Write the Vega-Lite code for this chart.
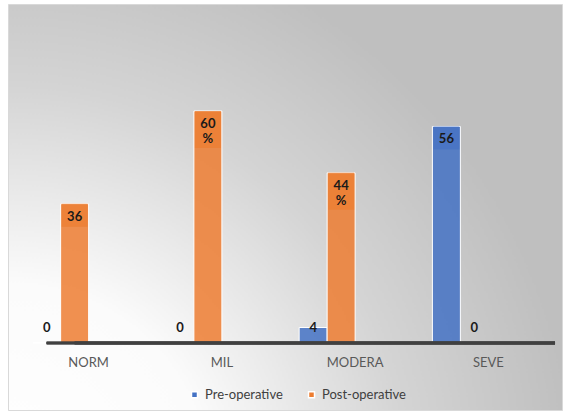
{
  "$schema": "https://vega.github.io/schema/vega-lite/v6.json",
  "autosize": "none",
  "width": 554,
  "height": 406,
  "padding": {"left": 8, "top": 4, "right": 3, "bottom": 4},
  "background": "#ffffff",
  "config": {
    "font": "Lato",
    "view": {
      "stroke": "#d9d9d9",
      "fill": {
        "gradient": "radial",
        "x1": 0, "y1": 1, "r1": 0,
        "x2": 0, "y2": 1, "r2": 1.2,
        "stops": [
          {"offset": 0, "color": "#ffffff"},
          {"offset": 0.3, "color": "#fbfbfb"},
          {"offset": 0.6, "color": "#d4d4d4"},
          {"offset": 0.85, "color": "#bfbfbf"},
          {"offset": 1, "color": "#bfbfbf"}
        ]
      }
    }
  },
  "data": {
    "values": [
      {"cat": "NORM", "series": "Pre-operative", "value": 0, "label": "0"},
      {"cat": "NORM", "series": "Post-operative", "value": 36, "label": "36"},
      {"cat": "MIL", "series": "Pre-operative", "value": 0, "label": "0"},
      {"cat": "MIL", "series": "Post-operative", "value": 60, "label": "60\n%"},
      {"cat": "MODERA", "series": "Pre-operative", "value": 4, "label": "4"},
      {"cat": "MODERA", "series": "Post-operative", "value": 44, "label": "44\n%"},
      {"cat": "SEVE", "series": "Pre-operative", "value": 56, "label": "56"},
      {"cat": "SEVE", "series": "Post-operative", "value": 0, "label": "0"}
    ]
  },
  "encoding": {
    "x": {
      "field": "cat",
      "type": "nominal",
      "sort": ["NORM", "MIL", "MODERA", "SEVE"],
      "scale": {"paddingInner": 0, "paddingOuter": 0.0788, "align": 0.667},
      "axis": {
        "title": null,
        "domain": false,
        "ticks": false,
        "labelAngle": 0,
        "labelFontSize": 13,
        "labelColor": "#595959",
        "labelPadding": 2,
        "offset": -56
      }
    },
    "xOffset": {
      "field": "series",
      "type": "nominal",
      "scale": {
        "domain": ["Pre-operative", "Post-operative", "s3", "s4"],
        "paddingInner": 0,
        "paddingOuter": 0.38
      }
    }
  },
  "layer": [
    {
      "mark": {"type": "bar", "fillOpacity": 0.85, "stroke": "#ffffff", "strokeWidth": 1},
      "encoding": {
        "y": {
          "field": "value",
          "type": "quantitative",
          "scale": {"domain": [-17.33, 87.67], "nice": false, "zero": false},
          "axis": null
        },
        "y2": {"datum": 0},
        "color": {
          "field": "series",
          "type": "nominal",
          "scale": {"domain": ["Pre-operative", "Post-operative"], "range": ["#4472C4", "#ED7D31"]},
          "legend": {
            "title": null,
            "orient": "none",
            "direction": "horizontal",
            "legendX": 180,
            "legendY": 384,
            "symbolType": "square",
            "symbolSize": 36,
            "symbolOpacity": 1,
            "labelFontSize": 13,
            "labelColor": "#404040",
            "columnPadding": 22
          }
        }
      }
    },
    {
      "transform": [{"filter": "datum.value >= 10 && indexof(datum.label, '%') < 0"}],
      "mark": {"type": "tick", "thickness": 23, "size": 26, "yOffset": 11.5},
      "encoding": {
        "y": {"field": "value", "type": "quantitative"},
        "color": {"field": "series", "type": "nominal"}
      }
    },
    {
      "transform": [{"filter": "indexof(datum.label, '%') >= 0"}],
      "mark": {"type": "tick", "thickness": 37, "size": 26, "yOffset": 18.5},
      "encoding": {
        "y": {"field": "value", "type": "quantitative"},
        "color": {"field": "series", "type": "nominal"}
      }
    },
    {
      "mark": {"type": "rule", "color": "#404040", "strokeWidth": 2.5},
      "encoding": {
        "y": {"datum": 0},
        "x": {"datum": "NORM", "bandPosition": 0},
        "x2": {"datum": "SEVE", "bandPosition": 1}
      }
    },
    {
      "transform": [{"filter": "datum.value >= 10"}],
      "mark": {"type": "text", "baseline": "top", "dy": 7, "fontSize": 13, "fontWeight": "bold", "color": "#1a1a1a", "lineBreak": "\n", "lineHeight": 15},
      "encoding": {
        "y": {"field": "value", "type": "quantitative"},
        "text": {"field": "label"}
      }
    },
    {
      "transform": [{"filter": "datum.value < 10"}],
      "mark": {"type": "text", "baseline": "middle", "dy": -15, "fontSize": 13, "fontWeight": "bold", "color": "#1a1a1a"},
      "encoding": {
        "y": {"datum": 0},
        "text": {"field": "label"}
      }
    }
  ]
}
